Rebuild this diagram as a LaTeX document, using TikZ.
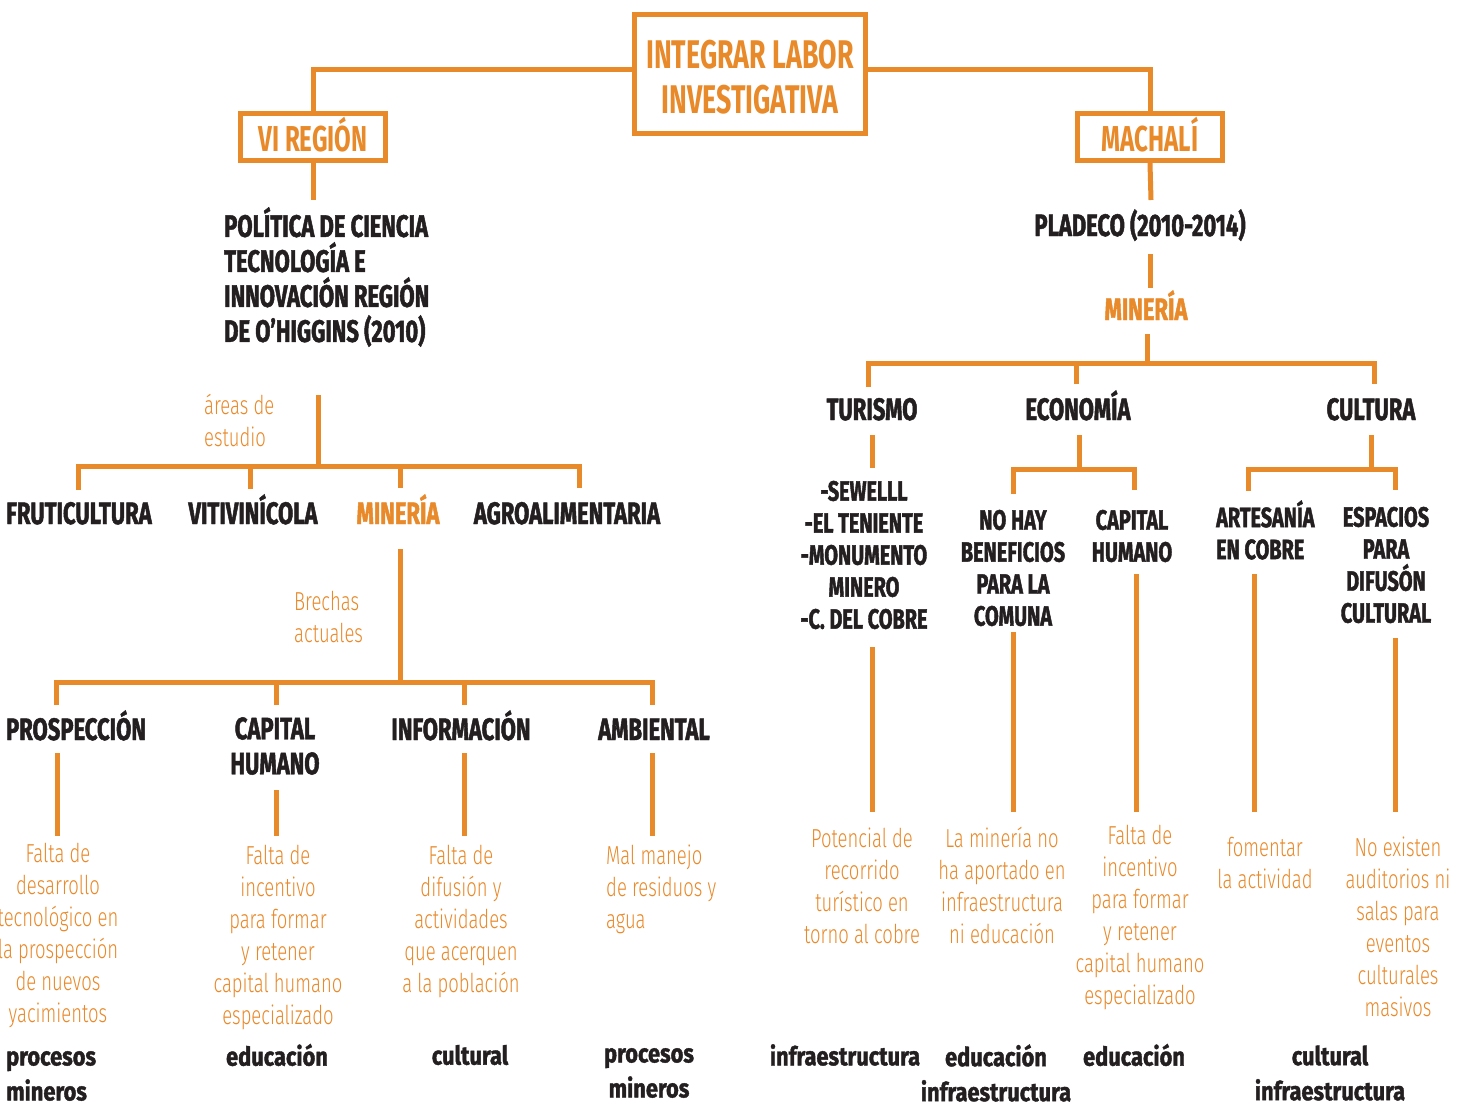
\documentclass[tikz,border=0pt]{standalone}
\usepackage{fontspec}
\newfontfamily\heavy[FakeStretch=0.71,FakeBold=1.5]{Fira Sans Bold}
\newfontfamily\heavylc[FakeStretch=0.84,FakeBold=1.5]{Fira Sans Bold}
\newfontfamily\framefont[FakeStretch=0.67]{Fira Sans Bold}
\newfontfamily\lite[FakeStretch=0.71]{Fira Sans Light}
\definecolor{ora}{HTML}{E8892A}
\definecolor{ink}{HTML}{231F20}
\tikzset{
  link/.style={draw=ora, line width=5pt},
  framebox/.style={draw=ora, line width=5pt, inner sep=0pt, text=ora, align=center},
  head/.style={text=ink, inner sep=0pt, align=center, font=\heavy\fontsize{31}{35}\selectfont},
  headsm/.style={text=ink, inner sep=0pt, align=center, font=\heavy\fontsize{28}{32}\selectfont},
  headora/.style={head, text=ora},
  note/.style={text=ora, inner sep=0pt, align=center, font=\lite\fontsize{26}{32}\selectfont},
  tag/.style={text=ink, inner sep=0pt, align=center, font=\heavylc\fontsize{26}{35}\selectfont},
}
\begin{document}
\begin{tikzpicture}[x=1pt, y=-1pt]
\useasboundingbox (0,0) rectangle (1465,1106);

% ---------- top level ----------
\node[framebox, minimum width=231pt, minimum height=119pt,
      font=\framefont\fontsize{40}{45}\selectfont] (top) at (750,74) {\rule{0pt}{34pt}INTEGRAR LABOR\\INVESTIGATIVA};
\node[framebox, minimum width=145pt, minimum height=47pt, text depth=6pt,
      font=\framefont\fontsize{36}{40}\selectfont] (vi) at (313,137) {VI REGIÓN};
\node[framebox, minimum width=145pt, minimum height=47pt, text depth=6pt,
      font=\framefont\fontsize{36}{40}\selectfont] (mach) at (1150,137) {MACHALÍ};
\draw[link] ([yshift=5pt]top.west) -| (vi.north);
\draw[link] ([yshift=5pt]top.east) -| (mach.north);

% ---------- VI Región branch ----------
\node[head, align=left, anchor=west] (pol) at (224,277)
  {POLÍTICA DE CIENCIA\\TECNOLOGÍA E\\INNOVACIÓN REGIÓN\\DE O’HIGGINS (2010)};
\coordinate (polfoot) at (313,200);
\draw[link] (vi.south) -- (polfoot);

\node[note, align=left, anchor=west] (areas) at (204,420) {áreas de\\estudio};
\coordinate (areastop) at (318,395);
\coordinate (bar1) at (318,466);

\node[head, anchor=base] (fru) at (79,524) {FRUTICULTURA};
\node[head, anchor=base] (viti) at (253,524) {VITIVINÍCOLA};
\node[headora, anchor=base] (minl) at (398,524) {MINERÍA};
\node[head, anchor=base] (agro) at (567,524) {AGROALIMENTARIA};

\draw[link] (areastop) -- (bar1);
\draw[link] (78,490) |- (bar1) -| (579,488);
\draw[link] (250,489) -- (250,466);
\draw[link] (400,488) -- (400,466);

\node[note, align=left, anchor=west] (brechas) at (294,617) {Brechas\\actuales};
\coordinate (minfoot) at (400,549);
\coordinate (bar2) at (400,682);
\draw[link] (minfoot) -- (bar2);
\draw[link] (56,705) |- (bar2) -| (652,705);
\draw[link] (276,705) -- (276,682);
\draw[link] (464,705) -- (464,682);

\node[head, anchor=base] (pros) at (76,740) {PROSPECCIÓN};
\node[head] (caph) at (275,746) {CAPITAL\\HUMANO};
\node[head, anchor=base] (info) at (461,740) {INFORMACIÓN};
\node[head, anchor=base] (amb) at (654,740) {AMBIENTAL};

\node[note] (n1) at (58,935) {Falta de\\desarrollo\\tecnológico en\\la prospección\\de nuevos\\yacimientos};
\node[note] (n2) at (278,937) {Falta de\\incentivo\\para formar\\y retener\\capital humano\\especializado};
\node[note] (n3) at (461,921) {Falta de\\difusión y\\actividades\\que acerquen\\a la población};
\node[note, align=left, anchor=west] (n4) at (606,889) {Mal manejo\\de residuos y\\agua};

\draw[link] (57,753) -- (57,836);
\draw[link] (276,790) -- (276,836);
\draw[link] (464,753) -- (464,836);
\draw[link] (652,753) -- (652,836);

\node[tag, align=left, anchor=west] (t1) at (6,1076) {procesos\\mineros};
\node[tag] (t2) at (277,1055) {educación};
\node[tag] (t3) at (470,1055) {cultural};
\node[tag] (t4) at (649,1073) {procesos\\mineros};

% ---------- Machalí branch ----------
\node[head, anchor=base] (plad) at (1140,236) {PLADECO (2010-2014)};
\draw[link] (mach.south) -- (1151,200);
\draw[link] (1150,254) -- (1150,288);
\node[headora, anchor=base] (minr) at (1146,320) {MINERÍA};
\coordinate (bar3) at (1147,363);
\draw[link] (1147,334) -- (bar3);
\draw[link] (868,387) |- (bar3) -| (1374,384);
\draw[link] (1076,384) -- (1076,363);

\node[head, anchor=base] (tur) at (872,420) {TURISMO};
\node[head, anchor=base] (eco) at (1078,420) {ECONOMÍA};
\node[head, anchor=base] (cul) at (1371,420) {CULTURA};

\draw[link] (872,435) -- (872,468);
\coordinate (bar4) at (1079,469);
\draw[link] (1079,435) -- (bar4);
\draw[link] (1013,494) |- (bar4) -| (1134,490);
\coordinate (bar5) at (1371,469);
\draw[link] (1371,435) -- (bar5);
\draw[link] (1248,491) |- (bar5) -| (1395,490);

\node[headsm] (sites) at (864,555) {-SEWELLL\\-EL TENIENTE\\-MONUMENTO\\MINERO\\-C. DEL COBRE};
\node[headsm] (nohay) at (1013,568) {NO HAY\\BENEFICIOS\\PARA LA\\COMUNA};
\node[headsm] (caph2) at (1132,536) {CAPITAL\\HUMANO};
\node[headsm, align=left, anchor=west] (arte) at (1216,530) {ARTESANÍA\\EN COBRE};
\node[headsm] (esp) at (1386,565) {ESPACIOS\\PARA\\DIFUSÓN\\CULTURAL};

\draw[link] (872,647) -- (872,812);
\draw[link] (1013,632) -- (1013,812);
\draw[link] (1136,574) -- (1136,812);
\draw[link] (1254,574) -- (1254,812);
\draw[link] (1395,638) -- (1395,812);

\node[note] (r1) at (862,886) {Potencial de\\recorrido\\turístico en\\torno al cobre};
\node[note] (r2) at (1002,885) {La minería no\\ha aportado en\\infraestructura\\ni educación};
\node[note] (r3) at (1140,917) {Falta de\\incentivo\\para formar\\y retener\\capital humano\\especializado};
\node[note] (r4) at (1265,863) {fomentar\\la actividad};
\node[note] (r5) at (1398,927) {No existen\\auditorios ni\\salas para\\eventos\\culturales\\masivos};

\node[tag] (u1) at (845,1055) {infraestructura};
\node[tag] (u2) at (996,1073) {educación\\infraestructura};
\node[tag] (u3) at (1134,1055) {educación};
\node[tag] (u4) at (1330,1073) {cultural\\infraestructura};
\end{tikzpicture}
\end{document}
